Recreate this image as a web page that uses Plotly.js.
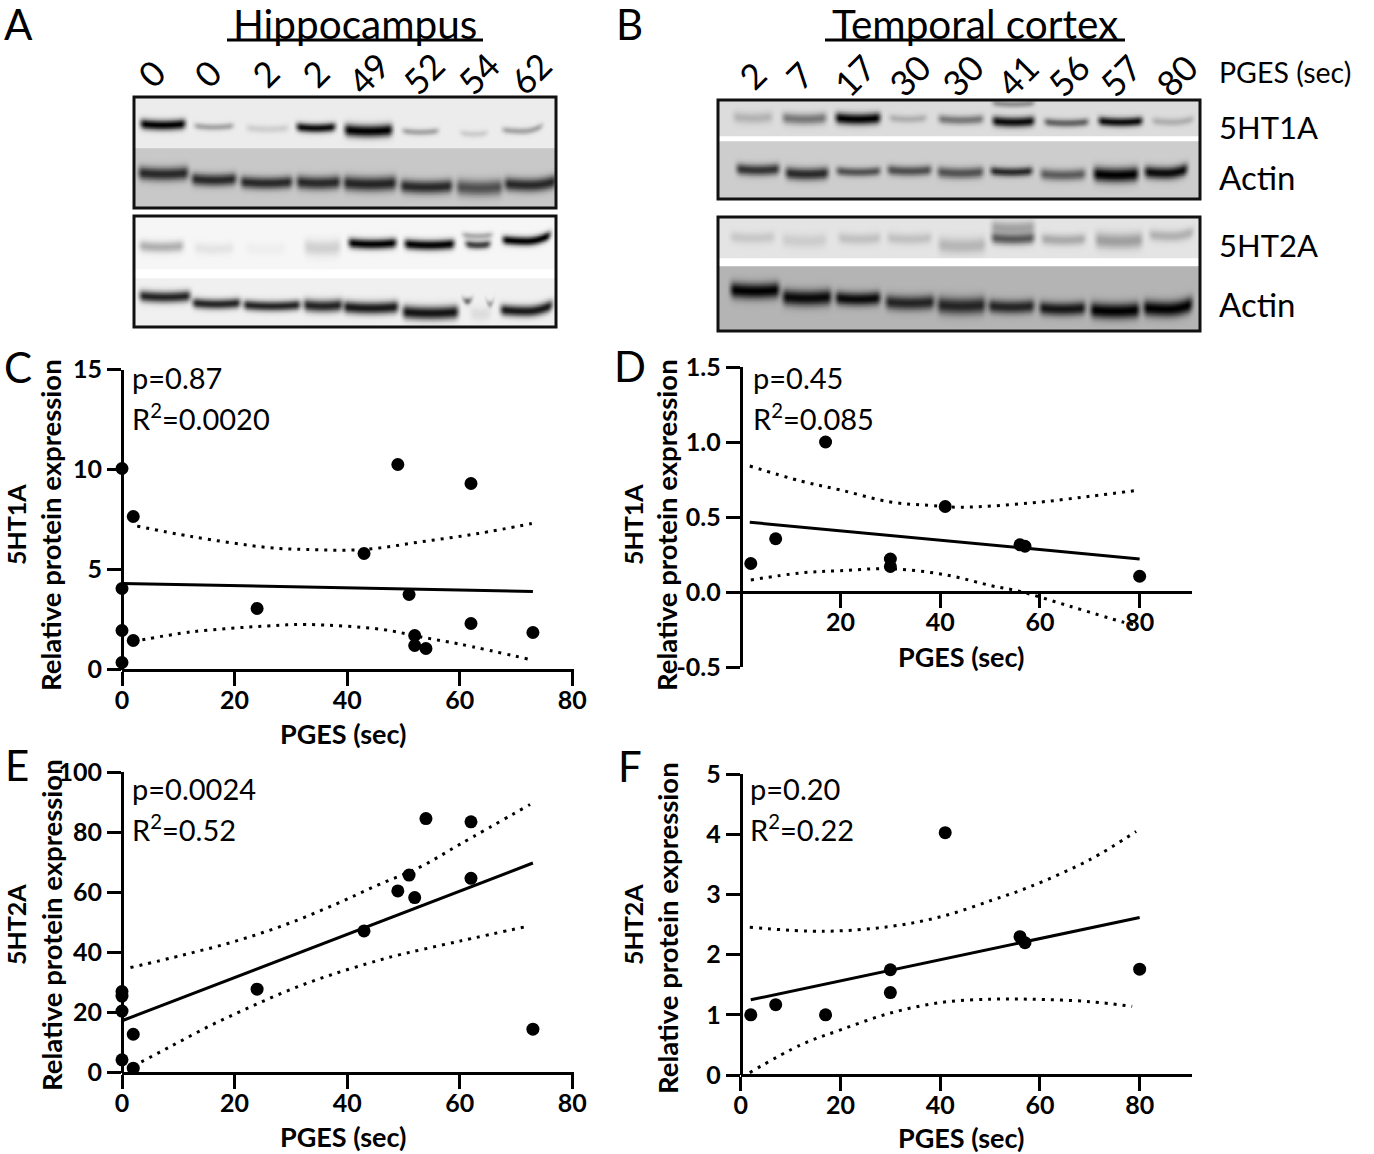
<!DOCTYPE html>
<html><head><meta charset="utf-8">
<script src="https://cdn.plot.ly/plotly-3.0.1.min.js"></script>
<style>html,body{margin:0;padding:0;background:#fff}</style></head>
<body><div id="chart" style="width:1374px;height:1154px"></div>
<script>
// ---- scatter data ----
const cX = [0,0,0,0,2,2,24,43,49,51,52,52,54,62,62,73];
const cY = [10.05,4.05,1.95,0.35,7.65,1.45,3.05,5.8,10.25,3.75,1.7,1.2,1.05,9.3,2.3,1.85];
const cFitX = [0,73], cFitY = [4.3,3.9];
const cUpX = [2.7,12.3,25.9,32.7,43,53,63.3,72.8], cUpY = [7.17,6.65,6.1,6.0,6.0,6.38,6.8,7.3];
const cLoX = [2,12.3,25.9,32.7,46.3,53,60,73], cLoY = [1.4,1.88,2.18,2.25,2.0,1.63,1.27,0.47];

const dX = [2,7,17,30,30,41,56,57,80];
const dY = [0.19,0.355,1.0,0.22,0.17,0.57,0.315,0.305,0.105];
const dFitX = [1.8,80], dFitY = [0.465,0.22];
const dUpX = [1.8,12,20,30,37.5,44,58,70,80], dUpY = [0.84,0.74,0.68,0.6,0.578,0.565,0.593,0.638,0.68];
const dLoX = [2,12,20,30,41,50.5,56,66,76.6,79], dLoY = [0.08,0.127,0.142,0.155,0.115,0.04,0.004,-0.095,-0.2,-0.22];

const eX = [0,0,0,0,2,2,24,43,49,51,52,54,62,62,73];
const eY = [27,25.5,20.5,4.3,12.8,1.5,27.8,47.2,60.5,65.8,58.3,84.6,83.5,64.7,14.5];
const eFitX = [0,73], eFitY = [17.3,69.8];
const eUpX = [1.5,10.9,20.2,29.2,38.1,45.5,53,60,72.5], eUpY = [35,39.2,43.8,49.4,56.2,62.5,68.5,76,89.3];
const eLoX = [2,8.5,15.6,22.7,30.1,37.5,45.2,48.5,60,72.2], eLoY = [2.2,8.6,15.6,21.8,27.8,32.8,37.2,38.9,43.8,48.8];

const fX = [2,7,17,30,30,41,56,57,80];
const fY = [1.0,1.17,1.0,1.75,1.37,4.03,2.3,2.2,1.76];
const fFitX = [2,80], fFitY = [1.25,2.62];
const fUpX = [1.8,16.7,30,40.5,50.5,58,70,79.3], fUpY = [2.455,2.39,2.47,2.64,2.91,3.13,3.58,4.05];
const fLoX = [1.8,12,20,30,40.5,50.5,58,70,78.5], fLoY = [0.04,0.5,0.75,1.03,1.21,1.26,1.26,1.22,1.14];

// ---- tick labels ----
const xTicksFull = [0,20,40,60,80], xTicksNoZero = [20,40,60,80];
const yTicksC = [0,5,10,15], yTicksD = [-0.5,0,0.5,1,1.5], yTextD = ['-0.5','0.0','0.5','1.0','1.5'];
const yTicksE = [0,20,40,60,80,100], yTicksF = [0,1,2,3,4,5];

// ---- lane labels ----
const hippoLanes = ['0','0','2','2','49','52','54','62'];
const hippoLaneX = [151,207,265,315,368,423,478,530];
const temporalLanes = ['2','7','17','30','30','41','56','57','80'];
const temporalLaneX = [752,799,854,909,962,1017,1068,1120,1176];

// ---- blot bands: [left, right, row, thickness, darkness, end lift] ----
const hippo1aBands = [[140,185,124,4.5,1,0],[194,233,126,3,.3,0],[246,288,128,3.5,.12,0],[296,335,127,4,.95,0],[344,392,130,5.5,1,0],[402,438,131,3,.3,0],[460,487,133,3,.13,0],[502,542,130,3,.3,4]];
const hippo1aActin = [[138,188,173,6,.8,0],[191,236,179,5.5,.8,0],[240,292,182,5.5,.8,0],[296,340,182,6,.8,0],[343,396,183,6.5,.82,0],[400,452,186,6,.8,0],[456,502,187,7,.6,0],[504,556,184,6,.8,3]];
const hippo2aBands = [[139,183,246,5,.28,0],[194,233,248,5,.07,0],[246,285,248,5,.03,0],[304,340,247,7,.15,0],[348,396,243,4.5,1,0],[404,454,244,4.5,1,0],[465,490,244,3.5,.75,0],[462,492,235,3,.3,0],[502,550,240,4,1,5]];
const hippo2aActin = [[139,190,296,5,.85,0],[192,240,303,4.5,.85,0],[243,300,305,4.5,.85,0],[303,342,305,5.5,.85,0],[343,398,307,5.5,.9,0],[402,458,312,6,.92,0],[463,471,300,3,.6,0],[487,492,303,3,.5,0],[470,490,313,6,.08,0],[500,552,310,5,.9,5]];
const temporal1aBands = [[733,772,117,5,.18,0],[782,826,118,5,.45,0],[835,880,118,5,1,0],[889,926,118,3.5,.2,0],[938,983,119,4,.45,0],[992,1034,121,4.5,.95,0],[992,1034,103,3,.35,0],[1044,1088,122,3.5,.55,0],[1098,1142,121,4,.95,0],[1152,1193,121,3.5,.2,2]];
const temporal1aActin = [[736,779,169,5,.75,0],[785,828,173,5.5,.8,0],[836,880,171,4,.6,0],[887,931,170,4.5,.62,0],[937,983,172,5,.6,0],[990,1032,171,4,.8,0],[1040,1085,174,5,.55,0],[1093,1138,174,6.5,1,0],[1144,1187,172,5.5,.95,3]];
const temporal2aBands = [[730,774,237,5,.12,0],[782,826,240,6,.1,0],[838,880,238,5,.15,0],[887,931,238,5,.15,0],[938,985,245,7,.2,0],[991,1034,238,5,.6,0],[991,1034,227,6,.28,0],[1041,1085,239,5,.25,0],[1095,1142,240,7,.3,0],[1149,1193,235,5,.22,3]];
const temporal2aActin = [[730,779,290,7,1,0],[782,831,297,7,.95,0],[835,880,298,6,.95,0],[885,934,302,6.5,.8,0],[937,985,305,7.5,.8,0],[988,1034,306,6,.8,0],[1039,1085,308,6,.88,0],[1090,1139,310,7,1,0],[1143,1192,308,7,1,4]];

const FONT = 'Lato, "Open Sans", sans-serif';
const W = 1374, H = 1154;
const px = v => v / W, py = v => 1 - v / H;

function strip(bands, x0, x1, y0, y1, bg) {
  const xs = [], ys = [], z = [];
  for (let x = x0; x <= x1; x += 2) xs.push(x);
  for (let y = y0; y <= y1; y += 1.5) ys.push(y);
  const ramp = t => { t = Math.max(0, Math.min(1, t)); return t * t * (3 - 2 * t); };
  for (const y of ys) {
    const row = [];
    for (const x of xs) {
      let light = 1;
      for (const [a, b, c, t, d, lift] of bands) {
        const mid = (a + b) / 2, half = (b - a) / 2;
        const v = (x - mid) / half, u = Math.max(0, v);
        const cy = c - lift * u * u - 1.5 * v * v + 0.75;
        const edge = ramp((x - a + 4) / 9) * ramp((b - x + 4) / 9);
        const fy = Math.exp(-Math.pow(Math.abs(y - cy) / (t * 1.12), 2));
        light *= 1 - d * edge * fy;
      }
      row.push(bg * light);
    }
    z.push(row);
  }
  return { type: 'heatmap', x: xs, y: ys, z, xaxis: 'x5', yaxis: 'y5', zmin: 0, zmax: 255, zsmooth: 'best',
    colorscale: [[0, '#000'], [1, '#fff']], showscale: false, hoverinfo: 'skip' };
}

const traces = [
  strip(hippo1aBands, 135, 555, 98, 149, 236),
  strip(hippo1aActin, 135, 555, 149, 207, 200),
  strip(hippo2aBands, 135, 555, 217, 269, 246),
  strip(hippo2aActin, 135, 555, 279, 326, 240),
  strip(temporal1aBands, 719, 1199, 101, 136, 220),
  strip(temporal1aActin, 719, 1199, 142, 198, 205),
  strip(temporal2aBands, 719, 1199, 218, 258, 228),
  strip(temporal2aActin, 719, 1199, 267, 330, 180)
];

function panel(n, X, Y, fx, fy, ux, uy, lx, ly) {
  const ax = n === 1 ? 'x' : 'x' + n, ay = n === 1 ? 'y' : 'y' + n;
  const common = { xaxis: ax, yaxis: ay, hoverinfo: 'skip', showlegend: false, cliponaxis: false };
  const dot = { color: '#000', width: 3, dash: '3px,6px', shape: 'spline', smoothing: 1 };
  traces.push({ ...common, type: 'scatter', mode: 'lines', x: ux, y: uy, line: dot });
  traces.push({ ...common, type: 'scatter', mode: 'lines', x: lx, y: ly, line: dot });
  traces.push({ ...common, type: 'scatter', mode: 'lines', x: fx, y: fy, line: { color: '#000', width: 3 } });
  traces.push({ ...common, type: 'scatter', mode: 'markers', x: X, y: Y, marker: { color: '#000', size: 13 } });
}
panel(1, cX, cY, cFitX, cFitY, cUpX, cUpY, cLoX, cLoY);
panel(2, dX, dY, dFitX, dFitY, dUpX, dUpY, dLoX, dLoY);
panel(3, eX, eY, eFitX, eFitY, eUpX, eUpY, eLoX, eLoY);
panel(4, fX, fY, fFitX, fFitY, fUpX, fUpY, fLoX, fLoY);

function xAxis(x0, x1, xmax, vals, yPx) {
  return { domain: [px(x0), px(x1)], range: [0, xmax], anchor: 'free', position: py(yPx), tickvals: vals, ticktext: vals.map(String),
    ticks: 'outside', ticklen: 14, tickwidth: 3, linewidth: 3, linecolor: '#000', tickcolor: '#000', showgrid: false, zeroline: false,
    ticklabelstandoff: -7, tickfont: { family: FONT, size: 25, color: '#000', weight: 700 } };
}
function yAxis(xAnchorPx, y0, y1, range, vals, text) {
  return { domain: [py(y1), py(y0)], range, anchor: 'free', position: px(xAnchorPx), tickvals: vals, ticktext: text || vals.map(String),
    ticks: 'outside', ticklen: 14, tickwidth: 3, linewidth: 3, linecolor: '#000', tickcolor: '#000', showgrid: false, zeroline: false,
    tickfont: { family: FONT, size: 25, color: '#000', weight: 700 } };
}

const ann = [];
function text(t, x, y, size, opts) {
  ann.push(Object.assign({ text: t, xref: 'paper', yref: 'paper', x: px(x), y: py(y), showarrow: false, xanchor: 'center', yanchor: 'middle',
    borderpad: 0, font: { family: FONT, size, color: '#000' } }, opts || {}));
}
[['A',18,24],['B',629,24],['C',18,367],['D',630,366],['E',17,765],['F',630,766]].forEach(a => text(a[0], a[1], a[2], 42));
text('Hippocampus', 355, 23.5, 40.5);
text('Temporal cortex', 975, 23.5, 40.5);
hippoLanes.forEach((l, i) => text(l, hippoLaneX[i], 73, 35, { textangle: -45 }));
temporalLanes.forEach((l, i) => text(l, temporalLaneX[i], 75, 35, { textangle: -45 }));
[['PGES (sec)',72,28.5],['5HT1A',127,31],['Actin',177,33],['5HT2A',245,31],['Actin',304,33]].forEach(a => text(a[0], 1218, a[1], a[2], { xanchor: 'left' }));

const stats = [['p=0.87','R<sup>2</sup>=0.0020',131,377,417],['p=0.45','R<sup>2</sup>=0.085',752,377,417],['p=0.0024','R<sup>2</sup>=0.52',131,788,828],['p=0.20','R<sup>2</sup>=0.22',749,788,828]];
stats.forEach(s => { text(s[0], s[2], s[3], 29, { xanchor: 'left' }); text(s[1], s[2], s[4], 29, { xanchor: 'left' }); });

function ylab(t, x, y, size) { ann.push({ text: t, xref: 'paper', yref: 'paper', x: px(x), y: py(y), showarrow: false, textangle: -90, xanchor: 'center', yanchor: 'middle',
  font: { family: FONT, size, color: '#000', weight: 700 } }); }
function xlab(x, y) { ann.push({ text: 'PGES (sec)', xref: 'paper', yref: 'paper', x: px(x), y: py(y), showarrow: false, xanchor: 'center', yanchor: 'middle',
  font: { family: FONT, size: 27, color: '#000', weight: 700 } }); }
ylab('5HT1A', 16, 525, 25); ylab('Relative protein expression', 51, 525, 27.5);
ylab('5HT1A', 633, 525, 25); ylab('Relative protein expression', 667, 525, 27.5);
ylab('5HT2A', 16, 925, 25); ylab('Relative protein expression', 51, 925, 27.5);
ylab('5HT2A', 633, 925, 25); ylab('Relative protein expression', 667, 928, 27.5);
xlab(343, 733); xlab(961, 656); xlab(343, 1136); xlab(961, 1137);

function frame(x0, y0, x1, y1) {
  return { type: 'rect', xref: 'paper', yref: 'paper', x0: px(x0), x1: px(x1), y0: py(y0), y1: py(y1), line: { color: '#111', width: 3 }, fillcolor: 'rgba(0,0,0,0)', layer: 'above' };
}
function rule(x0, x1, y) {
  return { type: 'line', xref: 'paper', yref: 'paper', x0: px(x0), x1: px(x1), y0: py(y), y1: py(y), line: { color: '#000', width: 3 } };
}

const layout = {
  width: W, height: H, autosize: false, margin: { l: 0, r: 0, t: 0, b: 0 }, paper_bgcolor: '#fff', plot_bgcolor: 'rgba(0,0,0,0)', showlegend: false,
  font: { family: FONT },
  annotations: ann,
  shapes: [frame(134,97,556,208), frame(134,216,556,327), frame(718,100,1200,199), frame(718,217,1200,331), rule(227,483,40), rule(825,1125,40)],
  xaxis5: { domain: [0,1], range: [0,W], visible: false, fixedrange: true },
  yaxis5: { domain: [0,1], range: [H,0], visible: false, fixedrange: true },
  xaxis:  xAxis(122, 574, 80.3, xTicksFull, 669.5),
  yaxis:  yAxis(122, 369.5, 669.5, [0,15], yTicksC),
  xaxis2: xAxis(740.8, 1192, 90.5, xTicksNoZero, 592),
  yaxis2: yAxis(740.8, 367, 667, [-0.5,1.5], yTicksD, yTextD),
  xaxis3: xAxis(122, 574, 80.3, xTicksFull, 1072.7),
  yaxis3: yAxis(122, 772.3, 1072.7, [0,100], yTicksE),
  xaxis4: xAxis(740.8, 1192, 90.5, xTicksFull, 1075),
  yaxis4: yAxis(740.8, 774.3, 1075, [0,5], yTicksF)
};
Plotly.newPlot('chart', traces, layout, { displayModeBar: false, staticPlot: true });
</script></body></html>
